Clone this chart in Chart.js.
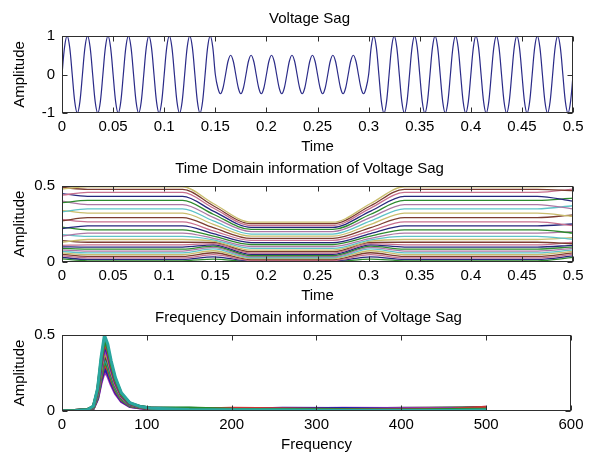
<!DOCTYPE html>
<html>
<head>
<meta charset="utf-8">
<script src="https://cdn.jsdelivr.net/npm/chart.js@4.4.1/dist/chart.umd.min.js"></script>
<style>
  html, body { margin: 0; padding: 0; background: #fff; }
  #fig { position: relative; width: 590px; height: 454px; overflow: hidden; background: #fff; }
  #fig canvas { position: absolute; left: 0; }
</style>
</head>
<body>
<div id="fig">
  <canvas id="sagPanel" width="590" height="160" style="top:0px"></canvas>
  <canvas id="timePanel" width="590" height="160" style="top:150px"></canvas>
  <canvas id="freqPanel" width="590" height="154" style="top:300px"></canvas>
</div>
<script>
// ---------- tick positions ----------
const timeTicks = [0, 0.05, 0.1, 0.15, 0.2, 0.25, 0.3, 0.35, 0.4, 0.45, 0.5];
const freqTicks = [0, 100, 200, 300, 400, 500, 600];
const waveTicks = [-1, 0, 1];
const levelTicks = [0, 0.5];

// ---------- panel 1: sampled 50 Hz waveform with a sag ----------
const SAMPLE_STEP = 0.0025; // seconds between samples
const voltageWave = [
  // 0 - 0.15 s : nominal amplitude
  0, 0.71, 1, 0.71, 0, -0.71, -1, -0.71,
  0, 0.71, 1, 0.71, 0, -0.71, -1, -0.71,
  0, 0.71, 1, 0.71, 0, -0.71, -1, -0.71,
  0, 0.71, 1, 0.71, 0, -0.71, -1, -0.71,
  0, 0.71, 1, 0.71, 0, -0.71, -1, -0.71,
  0, 0.71, 1, 0.71, 0, -0.71, -1, -0.71,
  0, 0.71, 1, 0.71, 0, -0.71, -1, -0.71,
  0, 0.71, 1, 0.71,
  // 0.15 - 0.30 s : sag to half amplitude
  0, -0.35, -0.5, -0.35, 0, 0.35, 0.5, 0.35,
  0, -0.35, -0.5, -0.35, 0, 0.35, 0.5, 0.35,
  0, -0.35, -0.5, -0.35, 0, 0.35, 0.5, 0.35,
  0, -0.35, -0.5, -0.35, 0, 0.35, 0.5, 0.35,
  0, -0.35, -0.5, -0.35, 0, 0.35, 0.5, 0.35,
  0, -0.35, -0.5, -0.35, 0, 0.35, 0.5, 0.35,
  0, -0.35, -0.5, -0.35, 0, 0.35, 0.5, 0.35,
  0, -0.35, -0.5, -0.35,
  // 0.30 - 0.50 s : recovery
  0, 0.71, 1, 0.71, 0, -0.71, -1, -0.71,
  0, 0.71, 1, 0.71, 0, -0.71, -1, -0.71,
  0, 0.71, 1, 0.71, 0, -0.71, -1, -0.71,
  0, 0.71, 1, 0.71, 0, -0.71, -1, -0.71,
  0, 0.71, 1, 0.71, 0, -0.71, -1, -0.71,
  0, 0.71, 1, 0.71, 0, -0.71, -1, -0.71,
  0, 0.71, 1, 0.71, 0, -0.71, -1, -0.71,
  0, 0.71, 1, 0.71, 0, -0.71, -1, -0.71,
  0, 0.71, 1, 0.71, 0, -0.71, -1, -0.71,
  0, 0.71, 1, 0.71, 0, -0.71, -1, -0.71,
  0
];

// ---------- panel 2: magnitude rows over time ----------
// knot times where each row's level is given
const tdKnotTimes = [0, 0.025, 0.118, 0.148, 0.185, 0.265, 0.302, 0.335, 0.465, 0.5];
const tdEdgeStart = [0.48, 0.49, 0.44, 0.45, 0.39, 0.40, 0.33, 0.34, 0.27, 0.28, 0.22, 0.23, 0.17, 0.18, 0.13, 0.14, 0.11, 0.10, 0.09, 0.08, 0.07, 0.06, 0.05, 0.04, 0.03, 0.02];
const tdNormal    = [0.495, 0.478, 0.458, 0.432, 0.405, 0.378, 0.350, 0.322, 0.292, 0.264, 0.238, 0.212, 0.190, 0.168, 0.148, 0.130, 0.113, 0.098, 0.085, 0.072, 0.060, 0.048, 0.037, 0.027, 0.017, 0.008];
const tdDipEntry  = [0.385, 0.370, 0.355, 0.335, 0.314, 0.293, 0.270, 0.248, 0.226, 0.205, 0.187, 0.170, 0.156, 0.146, 0.137, 0.129, 0.121, 0.113, 0.105, 0.096, 0.086, 0.074, 0.061, 0.048, 0.034, 0.019];
const tdSag       = [0.262, 0.252, 0.240, 0.228, 0.214, 0.200, 0.184, 0.170, 0.155, 0.142, 0.128, 0.115, 0.102, 0.090, 0.078, 0.068, 0.058, 0.050, 0.042, 0.035, 0.028, 0.022, 0.016, 0.011, 0.007, 0.003];
const tdDipExit   = [0.385, 0.370, 0.355, 0.335, 0.314, 0.293, 0.270, 0.248, 0.226, 0.205, 0.187, 0.170, 0.156, 0.146, 0.137, 0.129, 0.121, 0.113, 0.105, 0.096, 0.086, 0.074, 0.061, 0.048, 0.034, 0.019];
const tdEdgeEnd   = [0.50, 0.47, 0.48, 0.40, 0.42, 0.35, 0.37, 0.30, 0.31, 0.24, 0.25, 0.19, 0.20, 0.15, 0.16, 0.12, 0.13, 0.11, 0.10, 0.09, 0.08, 0.07, 0.06, 0.05, 0.04, 0.03];

// ---------- panel 3: spectra, one per time slice ----------
const fdBins = [0, 15, 30, 37, 42, 46, 50, 54, 58, 63, 70, 80, 92, 105, 150, 200, 260, 330, 400, 460, 500];
const fdSpectra = [
  [0, 0.002, 0.008, 0.032, 0.150, 0.350, 0.500, 0.440, 0.330, 0.220, 0.120, 0.055, 0.030, 0.018, 0.010, 0.008, 0.006, 0.004, 0.003, 0.004, 0.006],
  [0, 0.003, 0.010, 0.030, 0.141, 0.329, 0.470, 0.414, 0.310, 0.207, 0.113, 0.052, 0.030, 0.020, 0.020, 0.012, 0.010, 0.008, 0.006, 0.010, 0.012],
  [0, 0.002, 0.007, 0.029, 0.135, 0.315, 0.450, 0.396, 0.297, 0.198, 0.108, 0.050, 0.027, 0.016, 0.012, 0.018, 0.014, 0.010, 0.008, 0.012, 0.024],
  [0, 0.003, 0.009, 0.028, 0.129, 0.301, 0.430, 0.378, 0.284, 0.189, 0.103, 0.047, 0.029, 0.019, 0.014, 0.010, 0.018, 0.016, 0.012, 0.008, 0.010],
  [0, 0.002, 0.008, 0.026, 0.123, 0.287, 0.410, 0.361, 0.271, 0.180, 0.098, 0.045, 0.027, 0.017, 0.008, 0.014, 0.012, 0.018, 0.016, 0.014, 0.018],
  [0, 0.003, 0.010, 0.025, 0.117, 0.273, 0.390, 0.343, 0.257, 0.172, 0.094, 0.043, 0.028, 0.018, 0.016, 0.006, 0.004, 0.006, 0.005, 0.006, 0.008],
  [0, 0.002, 0.007, 0.024, 0.111, 0.259, 0.370, 0.326, 0.244, 0.163, 0.089, 0.041, 0.025, 0.015, 0.006, 0.016, 0.008, 0.012, 0.018, 0.020, 0.022],
  [0, 0.003, 0.009, 0.022, 0.105, 0.245, 0.350, 0.308, 0.231, 0.154, 0.084, 0.039, 0.026, 0.017, 0.018, 0.010, 0.016, 0.014, 0.010, 0.016, 0.014],
  [0, 0.002, 0.008, 0.021, 0.099, 0.231, 0.330, 0.290, 0.218, 0.145, 0.079, 0.036, 0.024, 0.014, 0.011, 0.012, 0.010, 0.008, 0.014, 0.018, 0.020],
  [0, 0.003, 0.010, 0.020, 0.093, 0.217, 0.310, 0.273, 0.205, 0.136, 0.074, 0.034, 0.023, 0.016, 0.013, 0.008, 0.012, 0.014, 0.012, 0.010, 0.012],
  [0, 0.002, 0.007, 0.018, 0.084, 0.196, 0.280, 0.246, 0.185, 0.123, 0.067, 0.031, 0.021, 0.015, 0.009, 0.011, 0.007, 0.005, 0.004, 0.007, 0.016],
  [0, 0.003, 0.009, 0.017, 0.078, 0.182, 0.260, 0.229, 0.172, 0.114, 0.062, 0.029, 0.020, 0.013, 0.015, 0.013, 0.015, 0.017, 0.015, 0.013, 0.025]
];

// ---------- styling ----------
const rowColors  = ['#c9bd6c', '#7c3d30', '#c8708f', '#26267c', '#2d8a2d', '#ad78a6', '#5ec3c8'];
const specColors = ['#2aa6a0', '#2a8a2a', '#cc3535', '#2020b0', '#b035b0', '#b5ad35', '#404040'];
const FAMILY = "'Liberation Sans', Arial, sans-serif";
const FONT = { family: FAMILY, size: 15, lineHeight: 1, weight: 'normal' };

// box around the plot area with inward tick marks on all four sides,
// plus the panel heading above the box
const framePlugin = {
  id: 'frame',
  afterDatasetsDraw(chart, args, opts) {
    const { ctx, chartArea: a, scales } = chart;
    const L = Math.round(a.left) + 0.5, R = Math.round(a.right) - 0.5;
    const T = Math.round(a.top) + 0.5, B = Math.round(a.bottom) - 0.5;
    const len = 5;
    ctx.save();
    ctx.strokeStyle = '#2e2e2e';
    ctx.lineWidth = 1;
    ctx.beginPath();
    scales.x.ticks.forEach(t => {
      const px = Math.round(scales.x.getPixelForValue(t.value)) + 0.5;
      ctx.moveTo(px, B); ctx.lineTo(px, B - len);
      ctx.moveTo(px, T); ctx.lineTo(px, T + len);
    });
    scales.y.ticks.forEach(t => {
      const py = Math.round(scales.y.getPixelForValue(t.value)) + 0.5;
      ctx.moveTo(L, py); ctx.lineTo(L + len, py);
      ctx.moveTo(R, py); ctx.lineTo(R - len, py);
    });
    ctx.stroke();
    ctx.strokeRect(L, T, R - L, B - T);

    ctx.fillStyle = '#000';
    ctx.font = `${FONT.size}px ${FAMILY}`;
    ctx.textAlign = 'center';
    ctx.textBaseline = 'middle';
    ctx.fillText(opts.text, (a.left + a.right) / 2 + opts.shift, a.top - opts.gap);
    ctx.restore();
  }
};

function makePanel(id, p) {
  return new Chart(document.getElementById(id), {
    type: 'line',
    data: { datasets: p.datasets },
    options: {
      responsive: false,
      animation: false,
      devicePixelRatio: 1,
      events: [],
      layout: { padding: { left: 0, right: 12, top: p.plotTop, bottom: p.bottomPad } },
      elements: { point: { radius: 0 } },
      plugins: {
        legend: { display: false },
        tooltip: { enabled: false },
        title: { display: false },
        frame: { text: p.title, shift: -8, gap: 17 }
      },
      scales: {
        x: {
          type: 'linear', min: p.xMin, max: p.xMax,
          grid: { display: false, drawTicks: false },
          border: { display: false },
          afterBuildTicks: s => { s.ticks = p.xTicks.map(v => ({ value: v })); },
          afterFit: s => { s.height = p.xHeight; },
          ticks: { color: '#000', font: FONT, padding: 6.5, maxRotation: 0, autoSkip: false, callback: v => String(v) },
          title: { display: true, text: p.xTitle, color: '#000', font: FONT, padding: { top: 0, bottom: 0 } }
        },
        y: {
          type: 'linear', min: p.yMin, max: p.yMax,
          grid: { display: false, drawTicks: false },
          border: { display: false },
          afterBuildTicks: s => { s.ticks = p.yTicks.map(v => ({ value: v })); },
          afterFit: s => { s.width = 62; },
          ticks: { color: '#000', font: FONT, padding: 7, autoSkip: false, callback: v => String(v) },
          title: { display: true, text: 'Amplitude', color: '#000', font: FONT, padding: { top: 12.5, bottom: 0 } }
        }
      }
    },
    plugins: [framePlugin]
  });
}

// panel 1
makePanel('sagPanel', {
  title: 'Voltage Sag', plotTop: 36,
  xTitle: 'Time', xMin: 0, xMax: 0.5, xTicks: timeTicks,
  yMin: -1, yMax: 1, yTicks: waveTicks,
  xHeight: 41.5, bottomPad: 5.5,
  datasets: [{
    data: voltageWave.map((v, i) => ({ x: i * SAMPLE_STEP, y: v })),
    borderColor: '#2b2b88', borderWidth: 1.2, tension: 0.3, clip: 0
  }]
});

// panel 2
makePanel('timePanel', {
  title: 'Time Domain information of Voltage Sag', plotTop: 36,
  xTitle: 'Time', xMin: 0, xMax: 0.5, xTicks: timeTicks,
  yMin: 0, yMax: 0.5, yTicks: levelTicks,
  xHeight: 41.5, bottomPad: 6.5,
  datasets: tdNormal.map((n, i) => {
    const levels = [tdEdgeStart[i], n, n, tdDipEntry[i], tdSag[i], tdSag[i], tdDipExit[i], n, n, tdEdgeEnd[i]];
    return {
      data: tdKnotTimes.map((t, k) => ({ x: t, y: levels[k] })),
      borderColor: rowColors[i % rowColors.length], borderWidth: 1.3,
      cubicInterpolationMode: 'monotone', clip: 0
    };
  })
});

// panel 3
makePanel('freqPanel', {
  title: 'Frequency Domain information of Voltage Sag', plotTop: 35,
  xTitle: 'Frequency', xMin: 0, xMax: 600, xTicks: freqTicks,
  yMin: 0, yMax: 0.5, yTicks: levelTicks,
  xHeight: 41.5, bottomPad: 1.5,
  datasets: fdSpectra.map((row, i) => ({
    data: fdBins.map((f, k) => ({ x: f, y: row[k] })),
    borderColor: specColors[i % specColors.length], borderWidth: 3, tension: 0, clip: 0
  }))
});
</script>
</body>
</html>
